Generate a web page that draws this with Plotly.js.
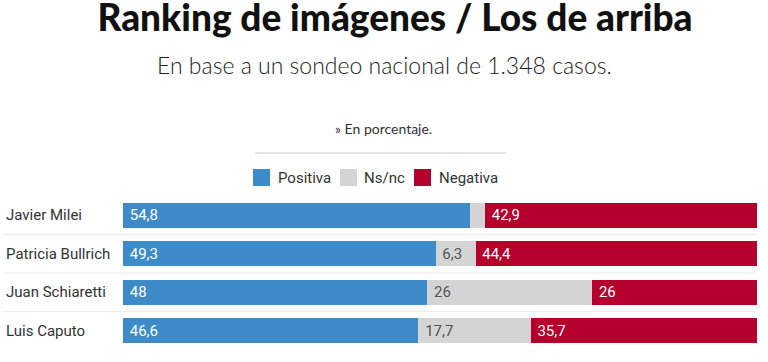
<!DOCTYPE html>
<html>
<head>
<meta charset="utf-8">
<script src="https://cdn.plot.ly/plotly-3.0.1.min.js"></script>
<style>html,body{margin:0;padding:0;background:#fff;}#chart{width:768px;height:362px;}</style>
</head>
<body>
<div id="chart"></div>
<script>
const names = ["Javier Milei", "Patricia Bullrich", "Juan Schiaretti", "Luis Caputo"];
const positiva = [54.8, 49.3, 48, 46.6];
const nsnc = [2.3, 6.3, 26, 17.7];
const negativa = [42.9, 44.4, 26, 35.7];
const nsncShowLabel = [false, true, true, true];
const seriesNames = ["Positiva", "Ns/nc", "Negativa"];

const fmt = v => '\u00a0' + String(v).replace('.', ',');
const colors = ["#3d8bc9", "#d4d4d4", "#b5002d"];
const textColors = ["#ffffff", "#555555", "#ffffff"];
const vals = [positiva, nsnc, negativa];

const traces = [];
vals.forEach((arr, i) => {
  traces.push({
    type: 'bar', orientation: 'h', y: names, x: arr, name: seriesNames[i],
    marker: {color: colors[i]},
    text: arr.map((v, j) => (i === 1 && !nsncShowLabel[j]) ? '' : fmt(v)),
    textposition: 'inside', insidetextanchor: 'start', constraintext: 'none',
    textfont: {family: 'Roboto, sans-serif', size: 15, color: textColors[i]},
    hoverinfo: 'skip', showlegend: false
  });
});

// plot-area pixel geometry helpers (layout only)
const M = {l: 123, r: 11, t: 196, b: 12}, W = 768, H = 362;
const PW = W - M.l - M.r, PH = H - M.t - M.b;
const px = x => (x - M.l) / PW;
const py = y => (H - M.b - y) / PH;

const shapes = [];
for (let k = 0; k < names.length - 1; k++) {
  shapes.push({type: 'line', xref: 'paper', yref: 'y', x0: px(3), x1: 1, y0: k + 0.5, y1: k + 0.5,
    line: {color: '#ececec', width: 1}});
}
shapes.push({type: 'line', xref: 'paper', yref: 'paper', x0: px(255), x1: px(506), y0: py(153), y1: py(153),
  line: {color: '#cccccc', width: 1}});

// legend (manual, to match reference spacing)
const legSq = [253, 340, 414], legTx = [276, 362, 437];
const annotations = [];
seriesNames.forEach((n, i) => {
  shapes.push({type: 'rect', xref: 'paper', yref: 'paper', x0: px(legSq[i]), x1: px(legSq[i] + 17),
    y0: py(186), y1: py(169), fillcolor: colors[i], line: {width: 0}});
  annotations.push({xref: 'paper', yref: 'paper', x: px(legTx[i]), y: py(177.5), xanchor: 'left', yanchor: 'middle',
    text: n, showarrow: false, font: {family: 'Roboto, sans-serif', size: 15, color: '#333'}});
});

names.forEach(n => annotations.push({
  xref: 'paper', yref: 'y', x: px(4), y: n, xanchor: 'left', yanchor: 'middle',
  text: n, showarrow: false, font: {family: 'Roboto, sans-serif', size: 15, color: '#333'}
}));
annotations.push({xref: 'paper', yref: 'paper', x: px(384), y: py(65), xanchor: 'center', yanchor: 'middle',
  text: 'En base a un sondeo nacional de 1.348 casos.', showarrow: false,
  font: {family: 'Lato, sans-serif', size: 23, weight: 300, color: '#222'}});
annotations.push({xref: 'paper', yref: 'paper', x: px(383), y: py(128), xanchor: 'center', yanchor: 'middle',
  text: '» En porcentaje.', showarrow: false,
  font: {family: 'Lato, sans-serif', size: 14, color: '#333'}});

const layout = {
  width: W, height: H, margin: M,
  paper_bgcolor: '#fff', plot_bgcolor: '#fff',
  title: {text: 'Ranking de imágenes / Los de arriba', x: 395 / W, xanchor: 'center', y: 1 - 18 / H, yanchor: 'middle',
    font: {family: 'Lato, sans-serif', size: 37, weight: 900, color: '#111'}},
  barmode: 'stack', bargap: 0.35,
  xaxis: {range: [0, 100], visible: false, fixedrange: true},
  yaxis: {autorange: 'reversed', showticklabels: false, showgrid: false, zeroline: false, fixedrange: true},
  showlegend: false,
  shapes: shapes, annotations: annotations
};
Plotly.newPlot('chart', traces, layout, {displayModeBar: false, staticPlot: true});
</script>
</body>
</html>
